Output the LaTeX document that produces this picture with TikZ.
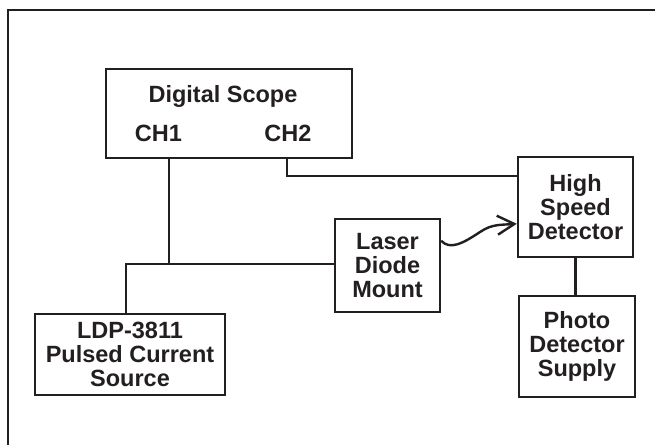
\documentclass[tikz,border=0pt]{standalone}
\usepackage{fontspec}
\setmainfont{Liberation Sans}
\usetikzlibrary{arrows.meta,calc}
\definecolor{ink}{HTML}{231F20}
\tikzset{
  unit/.style={draw=ink, line width=2.4bp, rectangle, inner sep=0pt, align=center,
    font=\fontsize{23.5bp}{24bp}\selectfont\bfseries, text=ink},
  label/.style={inner sep=0pt, font=\fontsize{23.5bp}{24bp}\selectfont\bfseries, text=ink},
  wire/.style={draw=ink, line width=2.4bp}
}
\begin{document}
\begin{tikzpicture}[x=1bp, y=-1bp]
\useasboundingbox (0,0) rectangle (655,445);
% outer frame, open to the right and bottom
\draw[wire, line width=2.6bp] (8,446) -- (8,10) -- (656,10);

% instruments
\node[unit, minimum width=246bp, minimum height=89bp] (scope) at (229,113.5) {};
\node[label] (title) at (223,96) {Digital Scope};
\node[label] (ch1) at (158.5,133.5) {CH1};
\node[label] (ch2) at (288,133.5) {CH2};

\node[unit, minimum width=105bp, minimum height=93bp] (ldm) at (387.5,265.5) {Laser\\Diode\\Mount};
\node[unit, minimum width=115bp, minimum height=100bp] (hsd) at (575.5,207) {High\\Speed\\Detector};
\node[unit, minimum width=116bp, minimum height=101bp] (pds) at (577,346.5) {Photo\\Detector\\Supply};
\node[unit, minimum width=190bp, minimum height=81bp] (ldp) at (130,354.5) {LDP-3811\\Pulsed Current\\Source};

% wiring
\coordinate (junc) at (169,264);
\coordinate (ch2tap) at ($(hsd.north west)+(0,20)$);
\draw[wire] (scope.south -| junc) -- (junc);
\draw[wire] (ldp.north -| 126,0) |- (ldm.west |- junc);
\draw[wire] (scope.south -| 287,0) |- (ch2tap);
\draw[wire] (hsd.south) -- (hsd.south |- pds.north);

% laser beam into the detector
\coordinate (beamout) at ($(ldm.north east)+(0,23)$);
\coordinate (beamin) at ($(hsd.north west)+(0,68)$);
\draw[wire, -{Straight Barb[length=17bp, width=19bp, line width=2.4bp]}]
  (beamout) .. controls (450,250) and (462,244) .. (480,232)
  .. controls (492,224) and (500,225) .. (beamin);
\end{tikzpicture}
\end{document}
